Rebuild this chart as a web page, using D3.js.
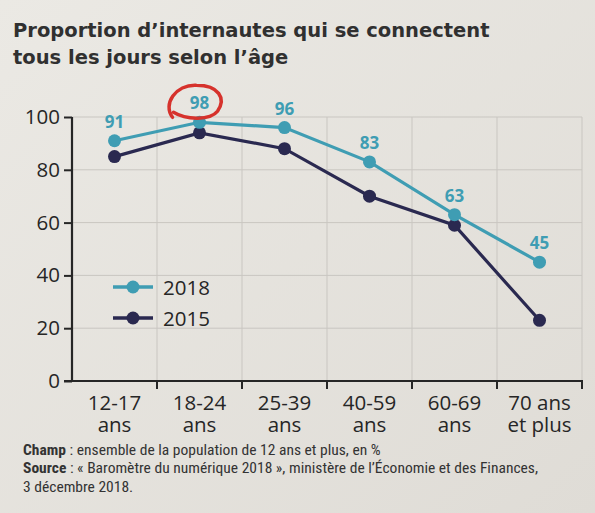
<!DOCTYPE html>
<html>
<head>
<meta charset="utf-8">
<script src="https://cdn.jsdelivr.net/npm/d3@7"></script>
<style>
  html, body { margin: 0; padding: 0; background: #e7e4df; }
  svg { display: block; }
</style>
</head>
<body>
<div class="canvas"></div>
<script>
const categories = [["12-17", "ans"], ["18-24", "ans"], ["25-39", "ans"], ["40-59", "ans"], ["60-69", "ans"], ["70 ans", "et plus"]];
const values2018 = [91, 98, 96, 83, 63, 45];
const values2015 = [85, 94, 88, 70, 59, 23];
const yTicks = [0, 20, 40, 60, 80, 100];
const seriesNames = ["2018", "2015"];

const width = 595, height = 513;
const margin = { top: 117, right: 13, bottom: 132, left: 72 };
const teal = "#3f9db3", navy = "#2a2950", ink = "#262626";

const svg = d3.select(".canvas").append("svg")
  .attr("width", width)
  .attr("height", height);

// fond légèrement dégradé comme la photo
const grad = svg.append("defs").append("linearGradient")
  .attr("id", "bg").attr("x1", 0).attr("y1", 0).attr("x2", 1).attr("y2", 1);
grad.append("stop").attr("offset", 0).attr("stop-color", "#ebe9e4");
grad.append("stop").attr("offset", 1).attr("stop-color", "#dfdcd6");
svg.append("rect").attr("width", width).attr("height", height).attr("fill", "url(#bg)");

const x = d3.scaleBand()
  .domain(categories.map(d => d[0]))
  .range([margin.left, width - margin.right]);

const y = d3.scaleLinear()
  .domain([0, 100])
  .range([height - margin.bottom, margin.top]);

// titre
svg.append("text")
  .attr("font-family", "DejaVu Sans, sans-serif")
  .attr("font-weight", 700)
  .attr("font-size", 19.5)
  .attr("fill", "#303030")
  .selectAll("tspan")
  .data(["Proportion d’internautes qui se connectent", "tous les jours selon l’âge"])
  .join("tspan")
    .attr("x", 13)
    .attr("y", (d, i) => 37 + i * 26.5)
    .text(d => d);

// grille
svg.append("g")
  .selectAll("line")
  .data(yTicks.slice(1))
  .join("line")
    .attr("x1", margin.left).attr("x2", width - margin.right)
    .attr("y1", d => y(d)).attr("y2", d => y(d))
    .attr("stroke", "#c9c6c1").attr("stroke-width", 1);

svg.append("g")
  .selectAll("line")
  .data(categories.slice(1).map(d => x(d[0])).concat([width - margin.right]))
  .join("line")
    .attr("x1", d => d).attr("x2", d => d)
    .attr("y1", y(100)).attr("y2", y(0))
    .attr("stroke", "#c9c6c1").attr("stroke-width", 1);

// axe Y
const yAxis = svg.append("g")
  .attr("transform", `translate(${margin.left},0)`)
  .call(d3.axisLeft(y).tickValues(yTicks).tickSize(8).tickPadding(4));
yAxis.select(".domain").attr("stroke", ink).attr("stroke-width", 2.2).attr("d", `M0,${y(100)}V${y(0)}`);
yAxis.selectAll(".tick line").attr("stroke", ink).attr("stroke-width", 2);
yAxis.selectAll(".tick text")
  .attr("font-family", "Open Sans, sans-serif")
  .attr("font-size", 20.5)
  .attr("fill", ink);

// axe X
const xAxis = svg.append("g")
  .attr("transform", `translate(0,${y(0)})`);
xAxis.append("line")
  .attr("x1", margin.left - 8).attr("x2", width - margin.right + 1)
  .attr("y1", 0).attr("y2", 0)
  .attr("stroke", ink).attr("stroke-width", 2.2);
xAxis.selectAll(".tk")
  .data(categories.slice(1).map(d => x(d[0])).concat([width - margin.right]))
  .join("line")
    .attr("class", "tk")
    .attr("x1", d => d).attr("x2", d => d)
    .attr("y1", 0).attr("y2", 8)
    .attr("stroke", ink).attr("stroke-width", 2);
xAxis.selectAll(".lbl")
  .data(categories)
  .join("text")
    .attr("class", "lbl")
    .attr("text-anchor", "middle")
    .attr("font-family", "Open Sans, sans-serif")
    .attr("font-size", 20.5)
    .attr("fill", ink)
    .each(function(d) {
      const t = d3.select(this);
      const cx = x(d[0]) + x.bandwidth() / 2;
      t.append("tspan").attr("x", cx).attr("y", 29).text(d[0]);
      t.append("tspan").attr("x", cx).attr("y", 51).text(d[1]);
    });

// séries
const series = [
  { name: seriesNames[1], values: values2015, color: navy },
  { name: seriesNames[0], values: values2018, color: teal }
];
const line = d3.line()
  .x((d, i) => x(categories[i][0]) + x.bandwidth() / 2)
  .y(d => y(d));

series.forEach(s => {
  svg.append("path")
    .datum(s.values)
    .attr("fill", "none")
    .attr("stroke", s.color)
    .attr("stroke-width", 3.2)
    .attr("d", line);
  svg.append("g")
    .selectAll("circle")
    .data(s.values)
    .join("circle")
      .attr("cx", (d, i) => x(categories[i][0]) + x.bandwidth() / 2)
      .attr("cy", d => y(d))
      .attr("r", 6.5)
      .attr("fill", s.color);
});

// étiquettes 2018
svg.append("g")
  .selectAll("text")
  .data(values2018)
  .join("text")
    .attr("x", (d, i) => x(categories[i][0]) + x.bandwidth() / 2)
    .attr("y", d => y(d) - 13)
    .attr("text-anchor", "middle")
    .attr("font-family", "Open Sans, sans-serif")
    .attr("font-weight", 700)
    .attr("font-size", 17)
    .attr("fill", teal)
    .text(d => d);

// cercle rouge autour de 98
const cx98 = x(categories[1][0]) + x.bandwidth() / 2 - 5;
const cy98 = y(values2018[1]) - 20;
svg.append("path")
  .attr("d", `M${cx98 - 22},${cy98 + 15} C${cx98 - 32},${cy98 + 2} ${cx98 - 19},${cy98 - 18} ${cx98 + 2},${cy98 - 17}
              C${cx98 + 24},${cy98 - 17} ${cx98 + 32},${cy98 - 4} ${cx98 + 23},${cy98 + 9}
              C${cx98 + 16},${cy98 + 18} ${cx98 - 8},${cy98 + 18} ${cx98 - 21},${cy98 + 10}`)
  .attr("fill", "none")
  .attr("stroke", "#d6322c")
  .attr("stroke-width", 3.5)
  .attr("stroke-linecap", "round");

// légende
const legend = svg.append("g");
[{ name: seriesNames[0], color: teal, yy: 287 }, { name: seriesNames[1], color: navy, yy: 318 }].forEach(s => {
  legend.append("line")
    .attr("x1", 113).attr("x2", 153)
    .attr("y1", s.yy).attr("y2", s.yy)
    .attr("stroke", s.color).attr("stroke-width", 3.5);
  legend.append("circle")
    .attr("cx", 133).attr("cy", s.yy).attr("r", 6.5).attr("fill", s.color);
  legend.append("text")
    .attr("x", 163).attr("y", s.yy + 7.5)
    .attr("font-family", "Open Sans, sans-serif")
    .attr("font-size", 20.5)
    .attr("fill", ink)
    .text(s.name);
});

// notes
const notes = svg.append("g")
  .attr("transform", "translate(23,0) scale(1.11,1)")
  .attr("font-family", "'Liberation Sans Narrow', 'Roboto Condensed', 'Arial Narrow', sans-serif")
  .attr("font-stretch", "condensed")
  .attr("font-size", 14)
  .attr("fill", "#333");
const n1 = notes.append("text").attr("x", 0).attr("y", 455);
n1.append("tspan").attr("font-weight", 700).text("Champ");
n1.append("tspan").text(" : ensemble de la population de 12 ans et plus, en %");
const n2 = notes.append("text").attr("x", 0).attr("y", 473);
n2.append("tspan").attr("font-weight", 700).text("Source");
n2.append("tspan").text(" : « Baromètre du numérique 2018 », ministère de l’Économie et des Finances,");
notes.append("text").attr("x", 0).attr("y", 492).text("3 décembre 2018.");
</script>
</body>
</html>
